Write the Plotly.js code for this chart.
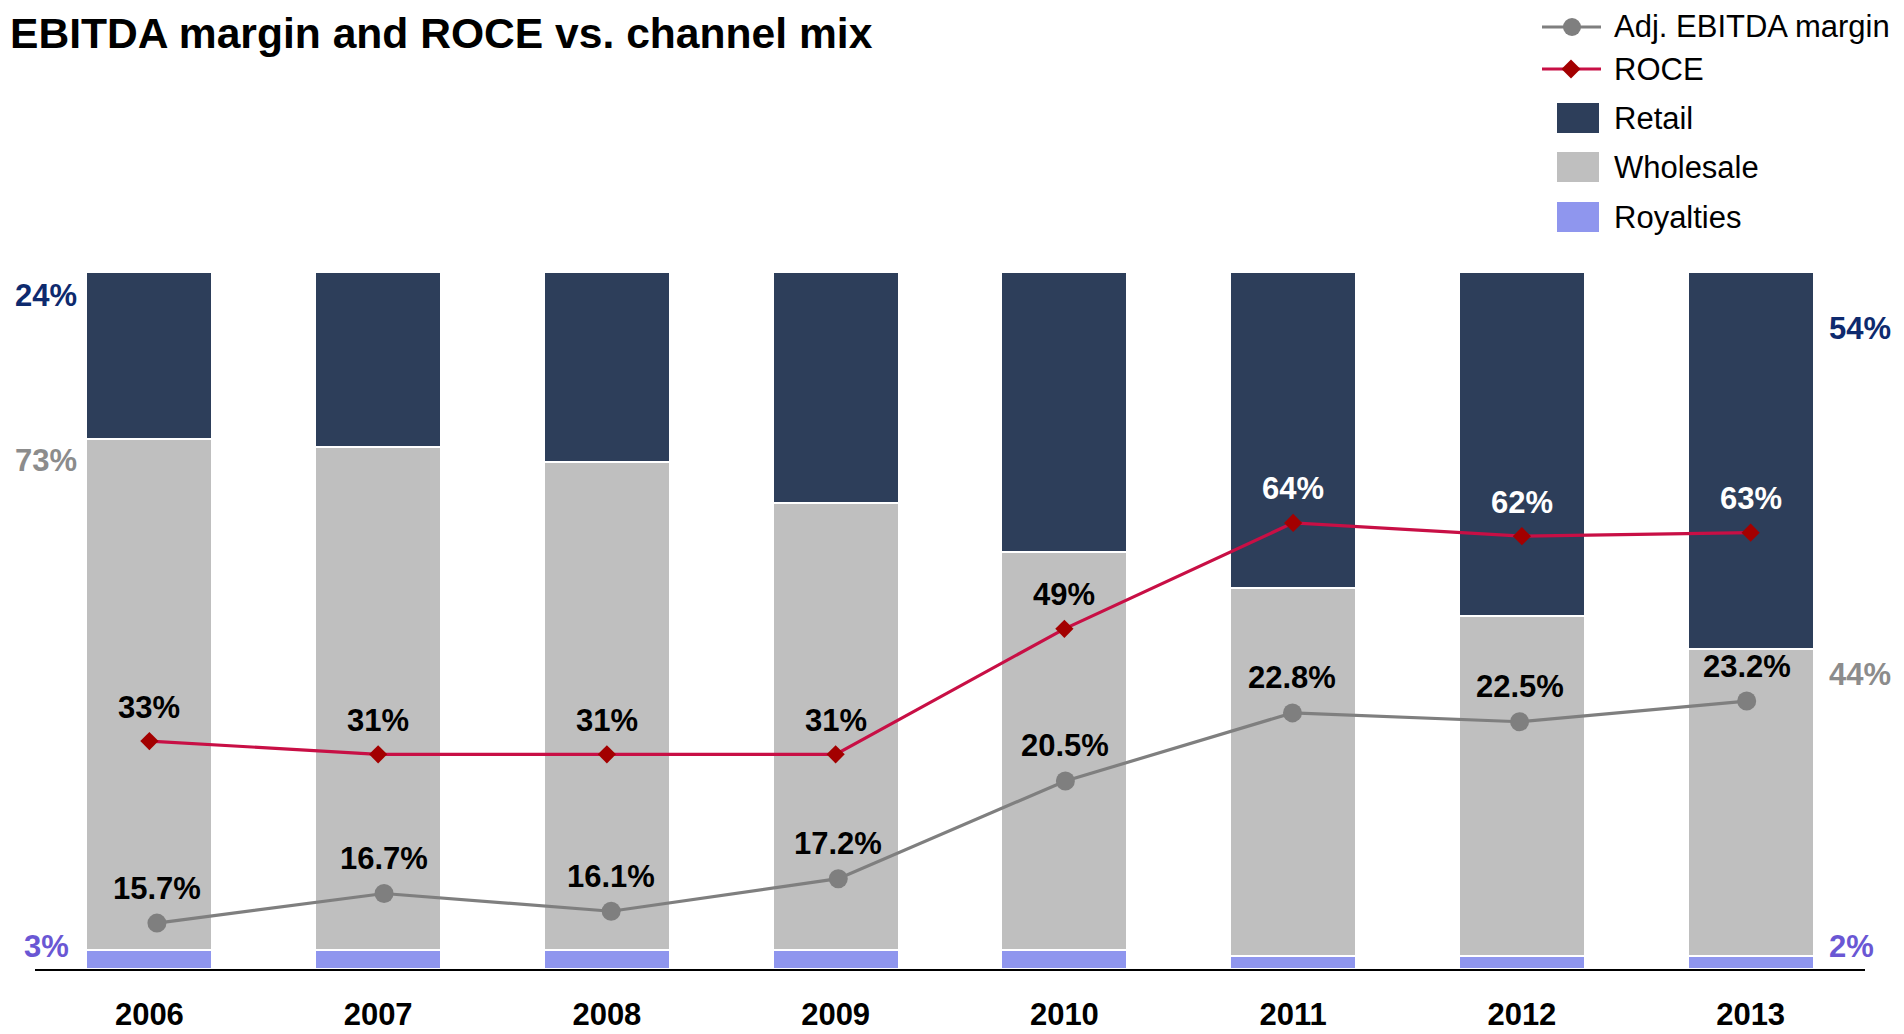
<!DOCTYPE html>
<html>
<head>
<meta charset="utf-8">
<script src="https://cdn.plot.ly/plotly-3.0.1.min.js"></script>
<style>
html, body { margin: 0; padding: 0; background: #ffffff; }
#chart { width: 1904px; height: 1034px; }
</style>
</head>
<body>
<div id="chart"></div>
<script>
// ---- Data ----
const years = ['2006', '2007', '2008', '2009', '2010', '2011', '2012', '2013'];
const retail = [24.0, 25.1, 27.2, 33.1, 40.1, 45.3, 49.3, 54.1];
const wholesale = [73.3, 72.2, 70.1, 64.2, 57.2, 52.9, 48.9, 44.1];
const royalties = [2.7, 2.7, 2.7, 2.7, 2.7, 1.8, 1.8, 1.8];
const roce = [32.7, 30.8, 30.8, 30.8, 48.8, 64.0, 62.1, 62.6];
const ebitdaMargin = [15.7, 16.7, 16.1, 17.2, 20.5, 22.8, 22.5, 23.2];
const seriesNames = ['Adj. EBITDA margin', 'ROCE', 'Retail', 'Wholesale', 'Royalties'];
const chartTitle = 'EBITDA margin and ROCE vs. channel mix';

// ---- Styles ----
const FONT = 'Liberation Sans, Arial, Helvetica, sans-serif';
const C_RETAIL = '#2D3E5A';
const C_WHOLESALE = '#BFBFBF';
const C_ROYAL = '#8F96EE';
const C_ROCE_LINE = '#C80F45';
const C_ROCE_MARK = '#A30000';
const C_EBITDA = '#7F7F7F';
const C_LBL_RETAIL = '#0E2A6E';
const C_LBL_WHOLE = '#8C8C8C';
const C_LBL_ROYAL = '#6A57D4';

const W = 1904, H = 1034;
const M = { l: 35, r: 39, t: 272, b: 65 };
const plotW = W - M.l - M.r, plotH = H - M.t - M.b;
const px = x => (x - M.l) / plotW;          // pixel -> paper x
const py = y => (H - M.b - y) / plotH;      // pixel -> paper y

const pct0 = v => Math.round(v) + '%';
const pct1 = v => v.toFixed(1) + '%';

const barLine = { color: '#ffffff', width: 2 };

const traces = [
  { type: 'bar', name: seriesNames[4], x: years, y: royalties, marker: { color: C_ROYAL, line: barLine },
    hoverinfo: 'x+y+name', showlegend: false },
  { type: 'bar', name: seriesNames[3], x: years, y: wholesale, marker: { color: C_WHOLESALE, line: barLine },
    hoverinfo: 'x+y+name', showlegend: false },
  { type: 'bar', name: seriesNames[2], x: years, y: retail, marker: { color: C_RETAIL, line: barLine },
    hoverinfo: 'x+y+name', showlegend: false },
  { type: 'scatter', mode: 'lines+markers', name: seriesNames[1], x: years, y: roce,
    line: { color: C_ROCE_LINE, width: 3.2 },
    marker: { symbol: 'diamond', size: 14, color: C_ROCE_MARK },
    cliponaxis: false, showlegend: false },
  { type: 'scatter', mode: 'lines+markers', name: seriesNames[0], x: years, y: ebitdaMargin,
    xaxis: 'x2', yaxis: 'y2',
    line: { color: C_EBITDA, width: 3.2 },
    marker: { symbol: 'circle', size: 19, color: C_EBITDA },
    cliponaxis: false, showlegend: false }
];

const annotations = [];

// ---- Point value labels, positioned through the axes ----
const valFont = (c) => ({ family: FONT, size: 31, weight: 'bold', color: c });
roce.forEach((v, i) => {
  annotations.push({ xref: 'x', yref: 'y', x: i, y: v, yshift: 34, xanchor: 'center', yanchor: 'middle',
    text: pct0(v), showarrow: false, font: valFont(i >= 5 ? '#ffffff' : '#000000') });
});
ebitdaMargin.forEach((v, i) => {
  annotations.push({ xref: 'x2', yref: 'y2', x: i, y: v, yshift: 35, xanchor: 'center', yanchor: 'middle',
    text: pct1(v), showarrow: false, font: valFont('#000000') });
});

// ---- Side value labels (first and last year of each channel) ----
const last = years.length - 1;
annotations.push(
  { xref: 'x', yref: 'y', x: 0, y: 100, xshift: -103, yshift: -23, xanchor: 'center', yanchor: 'middle',
    text: pct0(retail[0]), showarrow: false, font: valFont(C_LBL_RETAIL) },
  { xref: 'x', yref: 'y', x: 0, y: royalties[0] + wholesale[0], xshift: -103, yshift: -21, xanchor: 'center', yanchor: 'middle',
    text: pct0(wholesale[0]), showarrow: false, font: valFont(C_LBL_WHOLE) },
  { xref: 'x', yref: 'y', x: 0, y: 0, xshift: -103, yshift: 23, xanchor: 'center', yanchor: 'middle',
    text: pct0(royalties[0]), showarrow: false, font: valFont(C_LBL_ROYAL) },
  { xref: 'x', yref: 'y', x: last, y: 100, xshift: 76, yshift: -56, xanchor: 'left', yanchor: 'middle',
    text: pct0(retail[last]), showarrow: false, font: valFont(C_LBL_RETAIL) },
  { xref: 'x', yref: 'y', x: last, y: royalties[last] + wholesale[last], xshift: 76, yshift: -25, xanchor: 'left', yanchor: 'middle',
    text: pct0(wholesale[last]), showarrow: false, font: valFont(C_LBL_WHOLE) },
  { xref: 'x', yref: 'y', x: last, y: 0, xshift: 76, yshift: 23, xanchor: 'left', yanchor: 'middle',
    text: pct0(royalties[last]), showarrow: false, font: valFont(C_LBL_ROYAL) }
);

// ---- Legend (drawn with shapes + text to match swatch sizes) ----
const legendRows = [
  { name: seriesNames[0], kind: 'line-circle', color: C_EBITDA, mark: C_EBITDA, y: 27 },
  { name: seriesNames[1], kind: 'line-diamond', color: C_ROCE_LINE, mark: C_ROCE_MARK, y: 69 },
  { name: seriesNames[2], kind: 'box', color: C_RETAIL, y: 118 },
  { name: seriesNames[3], kind: 'box', color: C_WHOLESALE, y: 167 },
  { name: seriesNames[4], kind: 'box', color: C_ROYAL, y: 217 }
];
const shapes = [];
legendRows.forEach(r => {
  if (r.kind === 'box') {
    shapes.push({ type: 'rect', xref: 'paper', yref: 'paper', x0: px(1557), x1: px(1599), y0: py(r.y + 15), y1: py(r.y - 15),
      fillcolor: r.color, line: { width: 0 } });
  } else {
    shapes.push({ type: 'line', xref: 'paper', yref: 'paper', x0: px(1542), x1: px(1601), y0: py(r.y), y1: py(r.y),
      line: { color: r.color, width: 3.2 } });
    if (r.kind === 'line-circle') {
      shapes.push({ type: 'circle', xref: 'paper', yref: 'paper', x0: px(1563), x1: px(1581), y0: py(r.y + 9), y1: py(r.y - 9),
        fillcolor: r.mark, line: { width: 0 } });
    } else {
      const cx = 1571, d = 9.5;
      const p = [[cx - d, r.y], [cx, r.y - d], [cx + d, r.y], [cx, r.y + d]]
        .map((q, i) => (i ? 'L' : 'M') + px(q[0]) + ',' + py(q[1])).join(' ') + ' Z';
      shapes.push({ type: 'path', xref: 'paper', yref: 'paper', path: p, fillcolor: r.mark, line: { width: 0 } });
    }
  }
  annotations.push({ xref: 'paper', yref: 'paper', x: px(1612), y: py(r.y), xanchor: 'left', yanchor: 'middle',
    text: r.name, showarrow: false, font: { family: FONT, size: 31, color: '#000000' } });
});

const layout = {
  width: W, height: H,
  margin: M,
  paper_bgcolor: '#ffffff', plot_bgcolor: 'rgba(0,0,0,0)',
  font: { family: FONT, color: '#000000' },
  title: { text: chartTitle, xref: 'container', yref: 'container', x: 10 / W, xanchor: 'left',
    y: 1 - 33 / H, yanchor: 'middle', font: { family: FONT, size: 42.6, weight: 'bold', color: '#000000' } },
  barmode: 'stack', bargap: 0.449,
  showlegend: false,
  xaxis: { type: 'category', range: [-0.5, 7.5], showline: true, linecolor: '#000000', linewidth: 2,
    ticks: '', showgrid: false, zeroline: false, ticklabelstandoff: 17,
    tickfont: { family: FONT, size: 31, weight: 'bold', color: '#000000' }, fixedrange: true },
  xaxis2: { type: 'category', overlaying: 'x', range: [-0.537, 7.521], visible: false, fixedrange: true },
  yaxis: { range: [0, 100], visible: false, fixedrange: true },
  yaxis2: { overlaying: 'y', side: 'right', range: [14.15, 37.69], visible: false, fixedrange: true },
  shapes: shapes,
  annotations: annotations
};

Plotly.newPlot('chart', traces, layout, { displayModeBar: false, staticPlot: true });
</script>
</body>
</html>
